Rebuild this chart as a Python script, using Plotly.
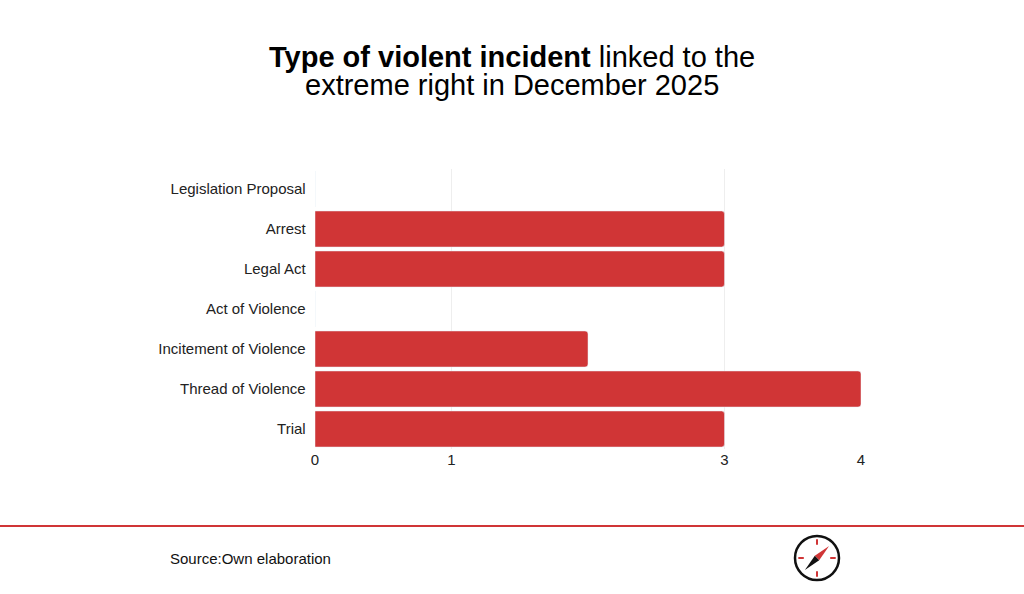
import plotly.graph_objects as graph

categories = ['Legislation Proposal', 'Arrest', 'Legal Act', 'Act of Violence',
              'Incitement of Violence', 'Thread of Violence', 'Trial']
counts = [0, 3, 3, 0, 2, 4, 3]
tick_values = [0, 1, 3, 4]
title_lines = ["<b>Type of violent incident</b> linked to the", "extreme right in December 2025"]

if __name__ == "__main__":

    fig = graph.Figure(
        data=[
            graph.Bar(
                x=counts, y=categories, orientation='h',
                marker=dict(color='#d03536', cornerradius=3),
                width=0.9,
                hoverinfo='x+y'
            )
        ]
    )

    fig.update_layout(
        font=dict(family='Liberation Sans, Arial', size=15, color='#222222'),
        paper_bgcolor='white', plot_bgcolor='white',
        width=1024, height=594,
        margin=dict(l=315, r=163, t=169, b=145),
        showlegend=False,
        bargap=0.1
    )

    # Set title, two lines set close together
    for i, line in enumerate(title_lines):
        fig.add_annotation(text=line, xref='paper', yref='paper',
                           x=(512-315)/546, y=(169-57-28*i)/280 + 1, xanchor='center', yanchor='middle',
                           showarrow=False, font=dict(size=29, color='#000000'))

    fig.update_xaxes(range=[0, 4], tickvals=tick_values, showgrid=True,
                     gridcolor='#eeeeee', zeroline=False, ticks='', fixedrange=True)
    fig.update_yaxes(categoryorder='array', categoryarray=categories,
                     range=[6.5, -0.5], ticks='', ticksuffix='  ', fixedrange=True)

    # footer
    fig.add_shape(type='line', xref='paper', yref='paper', x0=-315/546, x1=(1024-315)/546,
                  y0=-77/280, y1=-77/280, line=dict(color='#d03536', width=2))
    fig.add_annotation(text='Source:Own elaboration', xref='paper', yref='paper',
                       x=-147/546, y=-109/280, xanchor='left', yanchor='middle',
                       showarrow=False, font=dict(size=15, color='#111111'))

    # compass logo
    cx, cy = (817-315)/546, -(558-449)/280
    rx, ry = 22/546, 22/280
    fig.add_shape(type='circle', xref='paper', yref='paper', x0=cx-rx, x1=cx+rx,
                  y0=cy-ry, y1=cy+ry, line=dict(color='#111111', width=2.5))
    for dx, dy in [(0, 1), (0, -1), (1, 0), (-1, 0)]:
        fig.add_shape(type='line', xref='paper', yref='paper',
                      x0=cx+dx*rx*0.6, x1=cx+dx*rx*0.85, y0=cy+dy*ry*0.6, y1=cy+dy*ry*0.85,
                      line=dict(color='#d03536', width=2))
    fig.add_shape(type='path', xref='paper', yref='paper',
                  path=f"M {cx+rx*0.55} {cy+ry*0.55} L {cx+rx*0.1} {cy-ry*0.1} L {cx-rx*0.1} {cy+ry*0.1} Z",
                  fillcolor='#d03536', line=dict(width=0))
    fig.add_shape(type='path', xref='paper', yref='paper',
                  path=f"M {cx-rx*0.55} {cy-ry*0.55} L {cx+rx*0.1} {cy-ry*0.1} L {cx-rx*0.1} {cy+ry*0.1} Z",
                  fillcolor='#111111', line=dict(width=0))

    fig.write_html("out.html", config={'displayModeBar': False})
    # drop the browser's default page margin
    with open("out.html") as f:
        page = f.read()
    page = page.replace("<head>", "<head><style>body{margin:0}</style>", 1)
    with open("out.html", "w") as f:
        f.write(page)
